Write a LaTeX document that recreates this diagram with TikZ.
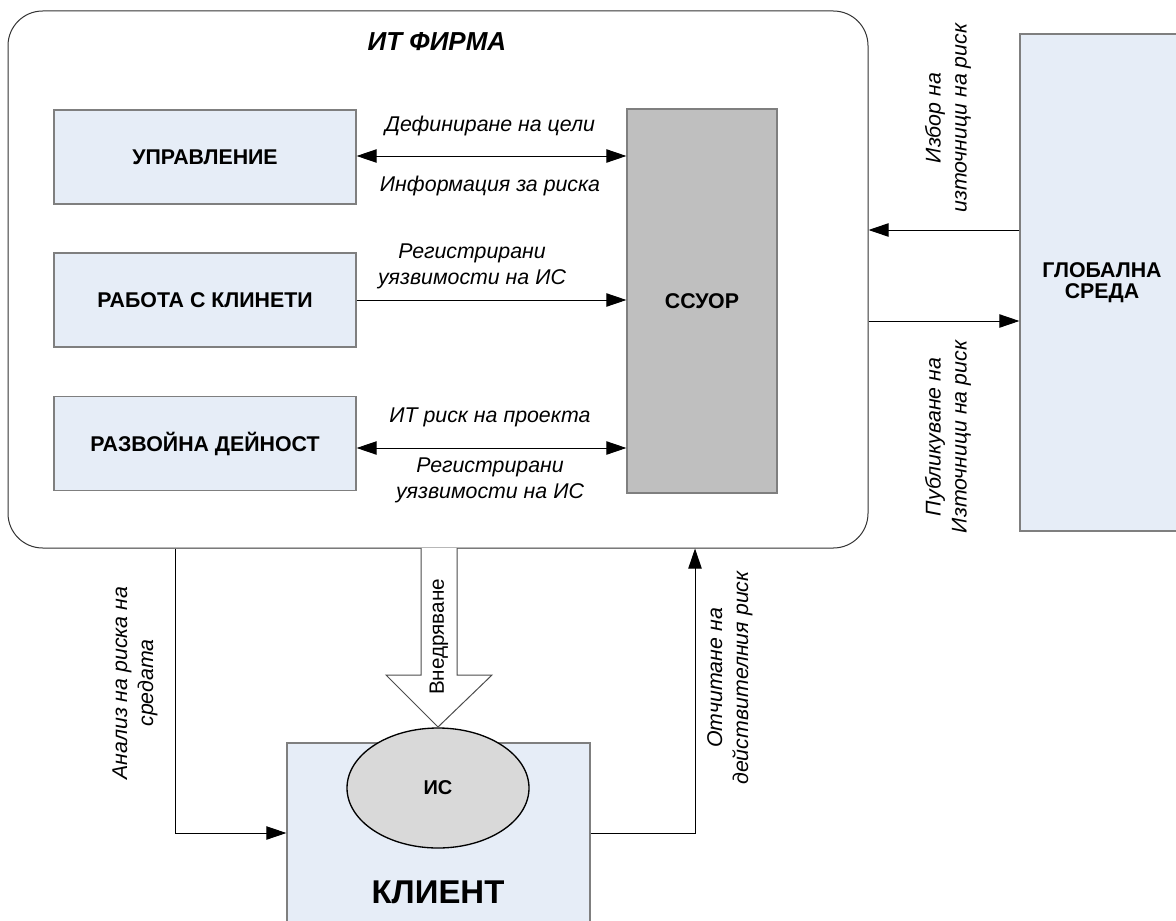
\documentclass[tikz,border=0pt]{standalone}
\usepackage{fontspec}
\setmainfont{Liberation Sans}
\usetikzlibrary{arrows.meta,shapes.geometric,calc}
\definecolor{boxblue}{HTML}{E6EDF7}
\definecolor{boxgray}{HTML}{BFBFBF}
\definecolor{ellgray}{HTML}{D9D9D9}
\definecolor{edgegray}{HTML}{7F7F7F}
\tikzset{
  unitbox/.style={draw=edgegray, fill=boxblue, line width=0.9pt, inner sep=0pt, font=\bfseries\fontsize{16}{16}\selectfont, align=center},
  lbl/.style={font=\itshape\fontsize{16}{19.5}\selectfont, align=center, inner sep=0pt},
  arr/.style={line width=0.75pt, -{Triangle[length=15pt,width=10pt]}},
  darr/.style={line width=0.75pt, {Triangle[length=15pt,width=10pt]}-{Triangle[length=15pt,width=10pt]}},
}
\begin{document}
\begin{tikzpicture}[x=0.75pt,y=-0.75pt]
\useasboundingbox (0,0) rectangle (1176,920);
% firm
\node[draw=black!80, line width=0.75pt, rounded corners=26pt, minimum width=645pt, minimum height=402.75pt, inner sep=0pt] (firm) at (438,279.5) {};
\node[font=\bfseries\itshape\fontsize{19.5}{21}\selectfont] (title) at (437,42) {ИТ ФИРМА};
% inner boxes
\node[unitbox, minimum width=226.5pt, minimum height=70.5pt] (upr) at (205,157) {УПРАВЛЕНИЕ};
\node[unitbox, minimum width=226.5pt, minimum height=70.5pt] (rab) at (205,300) {РАБОТА С КЛИНЕТИ};
\node[unitbox, minimum width=226.5pt, minimum height=70.5pt] (raz) at (205,443.5) {РАЗВОЙНА ДЕЙНОСТ};
\node[unitbox, fill=boxgray, minimum width=112.5pt, minimum height=288pt] (ssuor) at (702,301) {ССУОР};
% global
\node[unitbox, minimum width=123pt, minimum height=372.75pt] (glob) at (1102,282.5) {ГЛОБАЛНА\\СРЕДА};
% client
\node[unitbox, minimum width=227.25pt, minimum height=147.75pt] (klient) at (438.5,841.5) {};
\node[font=\bfseries\fontsize{24.7}{26}\selectfont] (kltext) at (438,892) {КЛИЕНТ};
\node[ellipse, draw=black, line width=1pt, fill=ellgray, minimum width=136.5pt, minimum height=90pt, inner sep=0pt, font=\bfseries\fontsize{15}{16}\selectfont] (is) at (438,788) {ИС};
% inner connectors
\draw[darr] (upr.east |- 0,156) -- (ssuor.west |- 0,156);
\node[lbl] (l1) at (490,126) {Дефиниране на цели};
\node[lbl] (l2) at (490,186) {Информация за риска};
\draw[arr] (rab.east) -- (ssuor.west |- rab.east);
\node[lbl] (l3) at (472,266) {Регистрирани\\уязвимости на ИС};
\draw[darr] (raz.east |- 0,448) -- (ssuor.west |- 0,448);
\node[lbl] (l4) at (490,417) {ИТ риск на проекта};
\node[lbl] (l5) at (490,480) {Регистрирани\\уязвимости на ИС};
% global connectors
\draw[arr] (glob.west |- 0,230) -- (firm.east |- 0,230);
\draw[arr] (firm.east |- 0,321) -- (glob.west |- 0,321);
\node[lbl, rotate=90] (l6) at (948,118) {Избор на\\източници на риск};
\node[lbl, rotate=90] (l7) at (948,437) {Публикуване на\\Източници на риск};
% bottom connectors
\coordinate (a1) at (175,833);
\draw[arr] (a1 |- firm.south) -- (a1) -- (a1 -| klient.west);
\node[lbl, rotate=90] (l8) at (135,683) {Анализ на риска на\\средата};
\coordinate (a2) at (695,833);
\draw[arr] (klient.east |- a2) -- (a2) -- (a2 |- firm.south);
\node[lbl, rotate=90] (l9) at (730,678) {Отчитане на\\действителния риск};
% block arrow
\draw[draw=black!70, fill=white, line width=0.75pt, line join=miter] (421,548) -- (421,675) -- (386,675) -- (438,727) -- (492,675) -- (457,675) -- (457,548);
\node[font=\fontsize{15.5}{18}\selectfont, rotate=90, inner sep=0pt] (l10) at (439,637) {Внедряване};
\end{tikzpicture}
\end{document}
